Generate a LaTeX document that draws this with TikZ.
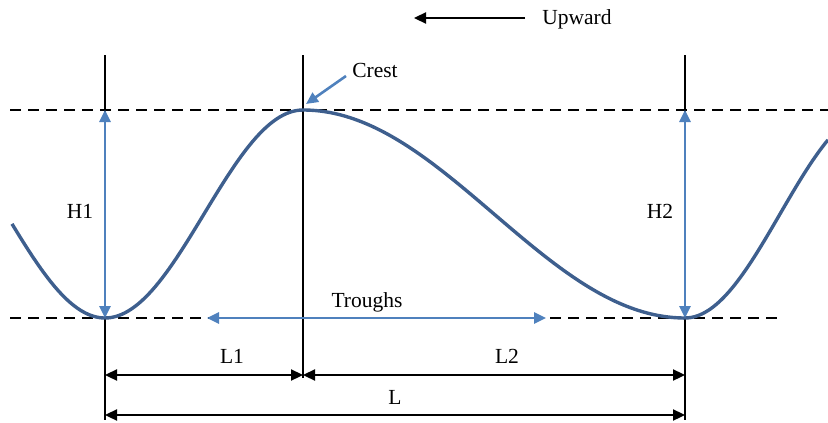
\documentclass[tikz,border=0pt]{standalone}
\usepackage{fontspec}
\setmainfont{Liberation Serif}
\usetikzlibrary{arrows.meta}
\definecolor{curveblue}{HTML}{3E5F8E}
\definecolor{arrowblue}{HTML}{4F81BD}
\tikzset{
  lbl/.style={font=\fontsize{21.5}{24}\selectfont, inner sep=1pt},
  guide/.style={black, line width=2.3pt},
  dashline/.style={black, line width=2.3pt, dash pattern=on 11pt off 7pt},
  bluearrow/.style={arrowblue, line width=2.6pt, {Triangle[length=12pt,width=11pt]}-{Triangle[length=12pt,width=11pt]}},
  bluesingle/.style={arrowblue, line width=2.6pt, -{Triangle[length=12pt,width=11pt]}},
  dimarrow/.style={black, line width=2.3pt, {Triangle[length=12pt,width=11pt]}-{Triangle[length=12pt,width=11pt]}},
  wave/.style={curveblue, line width=3.4pt},
}
\begin{document}
\begin{tikzpicture}[x=1pt,y=-1pt]
\useasboundingbox (0,0) rectangle (828,423);
% key points
\coordinate (t1) at (105,318);
\coordinate (cr) at (303,110);
\coordinate (t2) at (685,318);
\coordinate (t1top) at (105,110);
\coordinate (t2top) at (685,110);
\coordinate (v1a) at (105,55);
\coordinate (v1b) at (105,420);
\coordinate (v2a) at (303,55);
\coordinate (v2b) at (303,378);
\coordinate (v3a) at (685,55);
\coordinate (v3b) at (685,420);
\coordinate (dta) at (10,110);
\coordinate (dtb) at (828,110);
\coordinate (dba) at (10,318);
\coordinate (dbb) at (780,318);
\coordinate (l1a) at (105,375);
\coordinate (l1b) at (303,375);
\coordinate (l2b) at (685,375);
\coordinate (la) at (105,415);
\coordinate (lb) at (685,415);
\coordinate (tra) at (207,318);
\coordinate (trb) at (546,318);
\coordinate (upa) at (525,18);
\coordinate (upb) at (414,18);
\coordinate (cra) at (346,76);
\coordinate (crb) at (306,104);
% dashed levels
\draw[dashline] (dta) -- (dtb);
\draw[dashline] (dba) -- (dbb);
% vertical guides
\draw[guide] (v1a) -- (v1b);
\draw[guide] (v2a) -- (v2b);
\draw[guide] (v3a) -- (v3b);
% wave
\draw[wave] plot[domain=12:105, samples=40] (\x, {214+104*cos((\x-105)/198*180)})
  -- plot[domain=105:303, samples=60] (\x, {214+104*cos((\x-105)/198*180)})
  -- plot[domain=303:685, samples=100] (\x, {214-104*cos((\x-303)/382*180)})
  -- plot[domain=685:828, samples=50] (\x, {214+104*cos((\x-685)/190*180)});
% blue arrows
\draw[bluearrow] (t1) -- (t1top);
\draw[bluearrow] (t2) -- (t2top);
\draw[bluearrow] (tra) -- (trb);
\draw[bluesingle] (cra) -- (crb);
% dimension arrows
\draw[dimarrow] (l1a) -- (l1b);
\draw[dimarrow] (l1b) -- (l2b);
\draw[dimarrow] (la) -- (lb);
\draw[black, line width=2.3pt, -{Triangle[length=12pt,width=11pt]}] (upa) -- (upb);
% labels
\node[lbl] (up) at (577,19) {Upward};
\node[lbl] (crest) at (375,70) {Crest};
\node[lbl] (h1) at (80,211) {H1};
\node[lbl] (h2) at (660,211) {H2};
\node[lbl] (tr) at (367,302) {Troughs};
\node[lbl] (L1) at (232,356) {L1};
\node[lbl] (L2) at (507,356) {L2};
\node[lbl] (L) at (395,397) {L};
\end{tikzpicture}
\end{document}
